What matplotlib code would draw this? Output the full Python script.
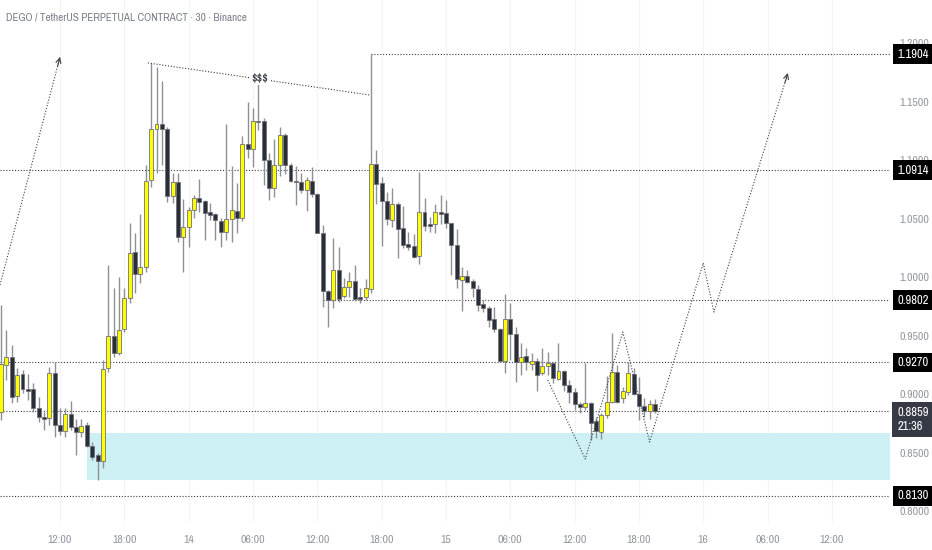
import matplotlib
matplotlib.use("Agg")
import matplotlib.pyplot as plt
import numpy as np
import pandas as pd

# DEGO/USDT perp, 30 min candles, 13th 06:30 -> 15th 19:30
opens = [0.8847, 0.9248, 0.9317, 0.8984, 0.9171, 0.9043, 0.9043, 0.8881, 0.8804, 0.8795,
         0.9180, 0.8736, 0.8684, 0.8830, 0.8718, 0.8676, 0.8736, 0.8556, 0.8479, 0.8428,
         0.9223, 0.9496, 0.9351, 0.9556, 0.9821, 1.0214, 1.0026, 1.0086, 1.0830, 1.1265,
         1.1308, 1.1265, 1.0693, 1.0813, 1.0342, 1.0428, 1.0573, 1.0676, 1.0650, 1.0556,
         1.0539, 1.0479, 1.0385, 1.0496, 1.0565, 1.0505, 1.1137, 1.1094, 1.1334, 1.1334,
         1.1000, 1.0761, 1.0958, 1.1214, 1.0958, 1.0821, 1.0813, 1.0744, 1.0821, 1.0710,
         1.0377, 0.9881, 0.9804, 1.0060, 0.9838, 0.9915, 0.9966, 0.9829, 0.9829, 0.9898,
         1.0966, 1.0804, 1.0650, 1.0488, 1.0625, 1.0419, 1.0283, 1.0265, 1.0180, 1.0556,
         1.0454, 1.0454, 1.0556, 1.0548, 1.0462, 1.0274, 0.9975, 1.0009, 0.9966, 0.9898,
         0.9770, 0.9736, 0.9641, 0.9556, 0.9282, 0.9641, 0.9513, 0.9274, 0.9325, 0.9257,
         0.9282, 0.9180, 0.9240, 0.9265, 0.9129, 0.9197, 0.9077, 0.9018, 0.8915, 0.8889,
         0.8923, 0.8770, 0.8676, 0.8821, 0.8932, 0.9189, 0.8966, 0.9018, 0.9171, 0.9001,
         0.8898, 0.8855, 0.8915]
highs = [0.9761, 0.9547, 0.9419, 0.9223, 0.9206, 0.9171, 0.9094, 0.8975, 0.8847, 0.9231,
         0.9274, 0.8881, 0.8881, 0.8941, 0.8787, 0.8787, 0.8761, 0.8590, 0.8496, 0.9291,
         1.0103, 0.9906, 1.0000, 0.9906, 1.0462, 1.0377, 1.0539, 1.0958, 1.1830, 1.1795,
         1.1676, 1.1283, 1.0890, 1.0890, 1.0667, 1.0599, 1.0701, 1.0838, 1.0659, 1.0633,
         1.0548, 1.0505, 1.1308, 1.0949, 1.0804, 1.1206, 1.1496, 1.1445, 1.1727, 1.1359,
         1.1060, 1.1180, 1.1283, 1.1231, 1.0975, 1.0949, 1.0890, 1.0855, 1.0941, 1.0718,
         1.0445, 0.9889, 1.0334, 1.0257, 0.9992, 1.0043, 1.0103, 0.9906, 0.9984, 1.1904,
         1.1086, 1.0855, 1.0727, 1.0761, 1.0642, 1.0607, 1.0385, 1.0368, 1.0898, 1.0676,
         1.0513, 1.0625, 1.0701, 1.0659, 1.0462, 1.0411, 1.0086, 1.0060, 0.9984, 0.9932,
         0.9804, 0.9753, 0.9744, 0.9565, 0.9855, 0.9778, 0.9573, 0.9436, 0.9394, 0.9351,
         0.9308, 0.9394, 0.9360, 0.9274, 0.9436, 0.9206, 0.9120, 0.9052, 0.8932, 0.9265,
         0.8932, 0.8804, 0.8838, 0.9154, 0.9522, 0.9248, 0.9060, 0.9274, 0.9223, 0.9146,
         0.8966, 0.8949, 0.8958]
lows = [0.8778, 0.9120, 0.8923, 0.8932, 0.9009, 0.8949, 0.8847, 0.8761, 0.8693, 0.8736,
        0.8633, 0.8650, 0.8633, 0.8693, 0.8479, 0.8633, 0.8547, 0.8436, 0.8265, 0.8368,
        0.9189, 0.9317, 0.9334, 0.9530, 0.9778, 0.9864, 0.9949, 1.0043, 1.0770, 1.0890,
        1.0958, 1.0642, 1.0633, 1.0300, 1.0043, 1.0257, 1.0505, 1.0556, 1.0317, 1.0488,
        1.0317, 1.0257, 1.0317, 1.0300, 1.0377, 1.0479, 1.1018, 1.0941, 1.1257, 1.0787,
        1.0659, 1.0684, 1.0864, 1.0881, 1.0813, 1.0616, 1.0718, 1.0565, 1.0684, 1.0377,
        0.9744, 0.9573, 0.9736, 0.9787, 0.9821, 0.9829, 0.9795, 0.9778, 0.9804, 0.9864,
        1.0625, 1.0265, 1.0445, 1.0428, 1.0163, 1.0248, 1.0231, 1.0163, 1.0112, 1.0394,
        1.0385, 1.0377, 1.0454, 1.0420, 1.0017, 0.9906, 0.9710, 0.9949, 0.9829, 0.9710,
        0.9701, 0.9573, 0.9530, 0.9274, 0.9180, 0.9291, 0.9103, 0.9163, 0.9206, 0.9206,
        0.9026, 0.9163, 0.9163, 0.9094, 0.9120, 0.9026, 0.8923, 0.8864, 0.8838, 0.8864,
        0.8607, 0.8625, 0.8616, 0.8795, 0.8923, 0.8923, 0.8923, 0.8992, 0.8992, 0.8778,
        0.8804, 0.8787, 0.8838]
closes = [0.9257, 0.9317, 0.8975, 0.9163, 0.9043, 0.9026, 0.8881, 0.8804, 0.8787, 0.9180,
          0.8736, 0.8684, 0.8830, 0.8718, 0.8676, 0.8727, 0.8556, 0.8462, 0.8428, 0.9214,
          0.9496, 0.9351, 0.9547, 0.9821, 1.0206, 1.0026, 1.0086, 1.0821, 1.1265, 1.1308,
          1.1265, 1.0693, 1.0813, 1.0342, 1.0428, 1.0573, 1.0676, 1.0642, 1.0548, 1.0531,
          1.0488, 1.0385, 1.0496, 1.0573, 1.0505, 1.1137, 1.1094, 1.1334, 1.1325, 1.1000,
          1.0761, 1.0958, 1.1214, 1.0958, 1.0821, 1.0813, 1.0744, 1.0830, 1.0710, 1.0377,
          0.9881, 0.9804, 1.0060, 0.9812, 0.9915, 0.9966, 0.9812, 0.9812, 0.9906, 1.0966,
          1.0795, 1.0650, 1.0496, 1.0625, 1.0411, 1.0274, 1.0257, 1.0171, 1.0556, 1.0437,
          1.0437, 1.0556, 1.0539, 1.0462, 1.0274, 0.9983, 1.0009, 0.9958, 0.9906, 0.9761,
          0.9736, 0.9633, 0.9556, 0.9282, 0.9641, 0.9513, 0.9274, 0.9317, 0.9274, 0.9282,
          0.9163, 0.9240, 0.9265, 0.9137, 0.9197, 0.9077, 0.9018, 0.8915, 0.8889, 0.8923,
          0.8752, 0.8684, 0.8821, 0.8932, 0.9189, 0.8932, 0.9026, 0.9180, 0.9001, 0.8898,
          0.8855, 0.8915, 0.8859]

# horizontal levels: price, start hour (None = from left edge)
level_prices = [1.1904, 1.0914, 0.9802, 0.9270, 0.8130]
level_starts = [41.0, None, 36.5, None, None]
last_price = 0.8859
countdown = "21:36"

# demand zone
zone_start = 14.5
zone_low, zone_high = 0.8265, 0.8667

# drawings (hours since 13th 00:00, price)
left_arrow_h = [6.4, 12.0]
left_arrow_p = [0.9932, 1.1881]
trend_h = [20.2, 40.9]
trend_p = [1.1830, 1.1556]
path_h = [57.5, 61.0, 64.5, 67.0, 72.0, 73.0, 79.9]
path_p = [0.9120, 0.8445, 0.9530, 0.8590, 1.0120, 0.9701, 1.1744]

tick_hours = [12, 18, 24, 30, 36, 42, 48, 54, 60, 66, 72, 78, 84]
tick_labels = ["12:00", "18:00", "14", "06:00", "12:00", "18:00", "15",
               "06:00", "12:00", "18:00", "16", "06:00", "12:00"]

times = pd.date_range("2021-10-13 06:30", periods=len(closes), freq="30min")
hours = ((times - pd.Timestamp("2021-10-13")) / pd.Timedelta(hours=1)).to_numpy()

o = np.array(opens); h = np.array(highs); l = np.array(lows); c = np.array(closes)
up = c >= o

# narrow font like TradingView, fall back to listed families
plt.rcParams["font.family"] = ["Archivo Narrow", "Roboto", "DejaVu Sans"]
DOT = (0, (1, 1.6))
LINE_COL = "#3a3d45"
X0, X1 = 6.4, 89.43

fig = plt.figure(figsize=(9.32, 5.5), dpi=100)
ax = fig.add_axes([0.0, 0.0509, 0.955, 0.9491])
ax.set_xlim(X0, X1)
ax.set_ylim(0.7906, 1.2368)

for s in ax.spines.values():
    s.set_visible(False)

ax.set_xticks(tick_hours)
ax.set_xticklabels(tick_labels)
ax.tick_params(axis="x", length=0, pad=9, labelsize=8.5, labelcolor="#9598a1")
ax.grid(axis="x", color="#f3f4f6", lw=0.8)
ax.set_axisbelow(True)

yt = np.arange(0.80, 1.2001, 0.05)
ax.yaxis.tick_right()
ax.set_yticks(yt)
ax.set_yticklabels([f"{v:.4f}" for v in yt])
ax.tick_params(axis="y", length=0, pad=6.5, labelsize=8.5, labelcolor="#9598a1")

# zone
ax.fill_between([zone_start, X1], zone_low, zone_high, color="#ccf0f4", lw=0, zorder=1)

# levels
for p, st in zip(level_prices, level_starts):
    ax.plot([X0 if st is None else st, X1], [p, p], color=LINE_COL, lw=0.8, ls=DOT, zorder=2)
ax.plot([X0, X1], [last_price, last_price], color=LINE_COL, lw=0.8, ls=DOT, zorder=2)

# candles
w = 0.37
ax.vlines(hours, l, h, color="#8f9096", lw=1.0, zorder=3)
body_bot = np.minimum(o, c)
body_h = np.maximum(np.abs(c - o), 0.0009)
ax.bar(hours[up], body_h[up], width=w, bottom=body_bot[up], color="#ffff00",
       edgecolor="#6f7178", lw=0.6, zorder=4)
ax.bar(hours[~up], body_h[~up], width=w, bottom=body_bot[~up], color="#2a2e39",
       edgecolor="#6f7178", lw=0.6, zorder=4)


def arrow_head(xs, ys):
    x1, y1 = xs[-1], ys[-1]
    x0 = x1 - 0.04 * (xs[-1] - xs[-2])
    y0 = y1 - 0.04 * (ys[-1] - ys[-2])
    ax.annotate("", xy=(x1, y1), xytext=(x0, y0),
                arrowprops=dict(arrowstyle="->", color=LINE_COL, lw=0.8,
                                mutation_scale=9, shrinkA=0, shrinkB=0), zorder=5)


ax.plot(left_arrow_h, left_arrow_p, color=LINE_COL, lw=0.8, ls=DOT, zorder=5)
arrow_head(left_arrow_h, left_arrow_p)
ax.plot(trend_h, trend_p, color=LINE_COL, lw=0.8, ls=DOT, zorder=5)
ax.text(30.6, 1.1695, "$$$", ha="center", va="center", fontsize=9, color="#2a2e39",
        bbox=dict(facecolor="white", edgecolor="none", pad=0.5), zorder=6)
ax.plot(path_h, path_p, color=LINE_COL, lw=0.8, ls=DOT, zorder=5)
arrow_head(path_h, path_p)

# price labels on the right scale
for p in level_prices:
    ax.annotate(f"{p:.4f}", xy=(1.0, p), xycoords=("axes fraction", "data"),
                xytext=(5, 0), textcoords="offset points", ha="left", va="center",
                fontsize=9, color="white", zorder=10, annotation_clip=False,
                bbox=dict(boxstyle="square,pad=0.35", facecolor="#000000", edgecolor="none"))
ax.annotate(f"{last_price:.4f}\n{countdown}", xy=(1.0, last_price - 0.0075),
            xycoords=("axes fraction", "data"), xytext=(5, 0), textcoords="offset points",
            ha="left", va="center", fontsize=9, color="white", linespacing=1.35,
            zorder=10, annotation_clip=False,
            bbox=dict(boxstyle="square,pad=0.4", facecolor="#363a45", edgecolor="none"))

fig.text(0.006, 0.969, "DEGO / TetherUS PERPETUAL CONTRACT · 30 · Binance",
         fontsize=8, color="#7b7f89", ha="left", va="center")

fig.savefig("out.png", dpi=100, facecolor="white")
